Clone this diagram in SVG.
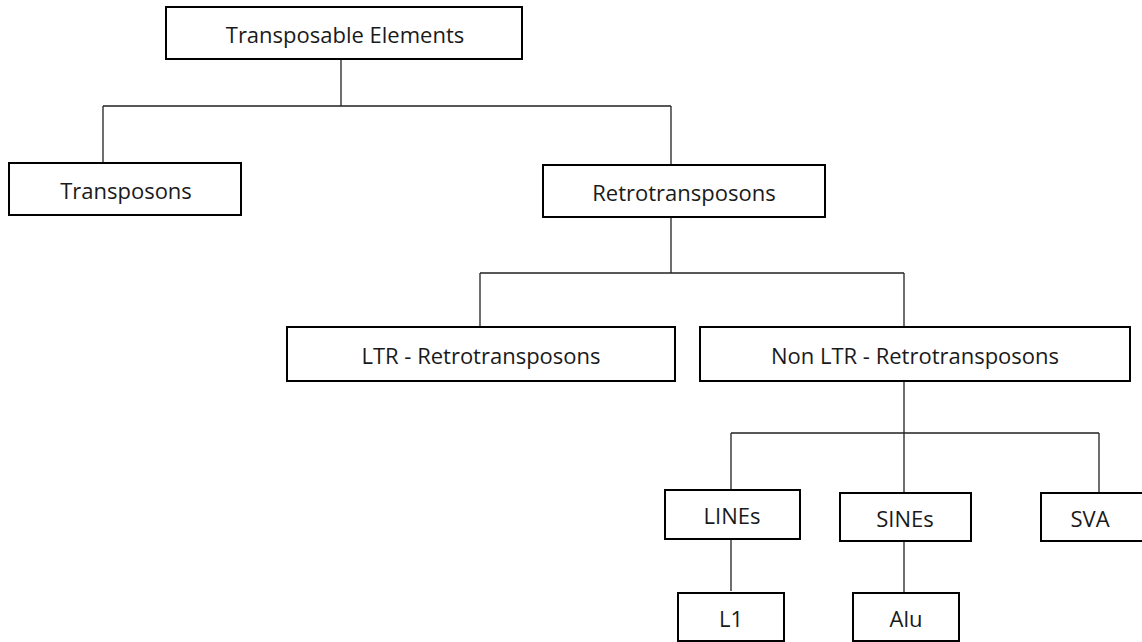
<svg xmlns="http://www.w3.org/2000/svg" width="1142" height="642" viewBox="0 0 1142 642">
<style>
.box{fill:#fff;stroke:#000;stroke-width:2}
.lbl{font-family:"Open Sans","Liberation Sans",sans-serif;font-size:22px;fill:#1a1a1a;text-anchor:middle;dominant-baseline:central}
.conn{fill:none;stroke:#222;stroke-width:1.3}
</style>
<rect width="1142" height="642" fill="#fff"/>
<g id="connectors">
<path class="conn" d="M341 59V106M103 106H671M103 106V162M671 106V165"/>
<path class="conn" d="M671 217V273M480 273H904M480 273V326M904 273V326"/>
<path class="conn" d="M904 381V433M731 433H1099M731 433V489M904 433V492M1099 433V492"/>
<path class="conn" d="M731 539V591M904 541V592"/>
</g>
<g id="n-te"><rect class="box" x="166" y="7" width="356" height="52"/><text class="lbl" x="345" y="34">Transposable Elements</text></g>
<g id="n-transposons"><rect class="box" x="9" y="163" width="232" height="52"/><text class="lbl" x="126" y="190">Transposons</text></g>
<g id="n-retro"><rect class="box" x="543" y="165" width="282" height="52"/><text class="lbl" x="684" y="192">Retrotransposons</text></g>
<g id="n-ltr"><rect class="box" x="287" y="327" width="388" height="54"/><text class="lbl" x="481" y="355">LTR - Retrotransposons</text></g>
<g id="n-nonltr"><rect class="box" x="700" y="327" width="430" height="54"/><text class="lbl" x="915" y="355">Non LTR - Retrotransposons</text></g>
<g id="n-lines"><rect class="box" x="665" y="490" width="135" height="49"/><text class="lbl" x="732" y="515">LINEs</text></g>
<g id="n-sines"><rect class="box" x="840" y="493" width="131" height="48"/><text class="lbl" x="905" y="518">SINEs</text></g>
<g id="n-sva"><rect class="box" x="1041" y="493" width="106" height="48"/><text class="lbl" x="1090" y="518">SVA</text></g>
<g id="n-l1"><rect class="box" x="678" y="593" width="106" height="48"/><text class="lbl" x="731" y="618">L1</text></g>
<g id="n-alu"><rect class="box" x="853" y="593" width="106" height="48"/><text class="lbl" x="906" y="618">Alu</text></g>
</svg>
